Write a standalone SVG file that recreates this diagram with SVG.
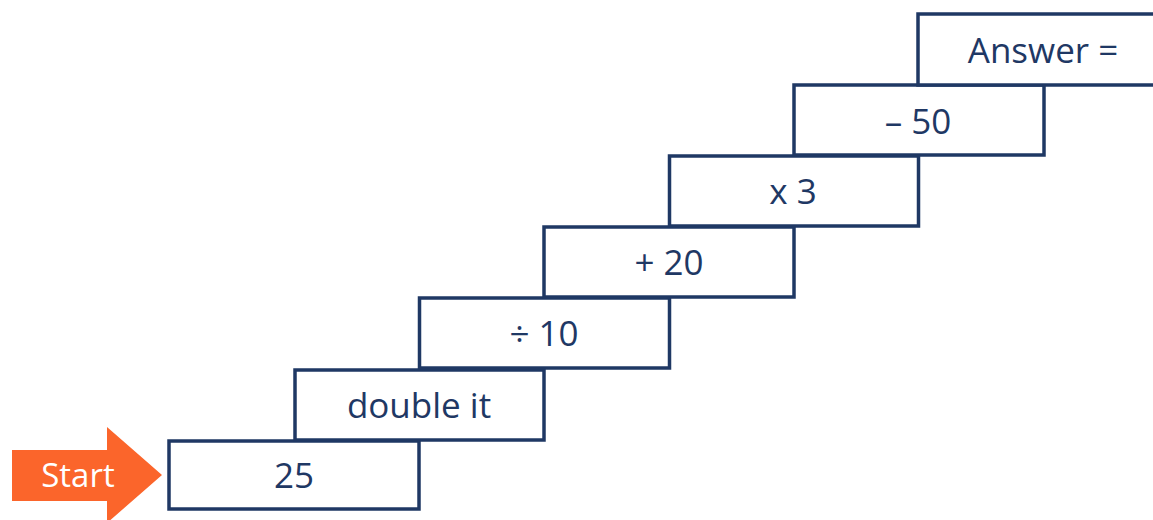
<svg xmlns="http://www.w3.org/2000/svg" width="1153" height="520" viewBox="0 0 1153 520">
<style>
.box{fill:#fff;stroke:#1F3864;stroke-width:3.5}
.lbl{font-family:"Open Sans","Noto Sans",sans-serif;font-size:35px;fill:#1F3864;text-anchor:middle}
.start{font-family:"Open Sans","Noto Sans",sans-serif;font-size:33px;fill:#fff;text-anchor:middle}
</style>
<rect width="1153" height="520" fill="#fff"/>
<g id="connectors"></g>
<g id="start-arrow">
<polygon points="12,450 107,450 107,427 162,475 107,523 107,501 12,501" fill="#FB652B"/>
<text class="start" x="78" y="487">Start</text>
</g>
<g id="n1"><rect class="box" x="169" y="441" width="250" height="68"/><text class="lbl" x="294" y="488">25</text></g>
<g id="n2"><rect class="box" x="295" y="370" width="249" height="70"/><text class="lbl" x="419" y="418">double it</text></g>
<g id="n3"><rect class="box" x="419.5" y="298" width="250" height="70"/><text class="lbl" x="544" y="346">÷ 10</text></g>
<g id="n4"><rect class="box" x="544" y="227" width="250" height="70"/><text class="lbl" x="669" y="275">+ 20</text></g>
<g id="n5"><rect class="box" x="669.5" y="156" width="249" height="70"/><text class="lbl" x="793" y="204">x 3</text></g>
<g id="n6"><rect class="box" x="794" y="85" width="250" height="70"/><text class="lbl" x="918" y="134">– 50</text></g>
<g id="n7"><rect class="box" x="918" y="14" width="260" height="71"/><text class="lbl" x="1043" y="63">Answer =</text></g>
</svg>
